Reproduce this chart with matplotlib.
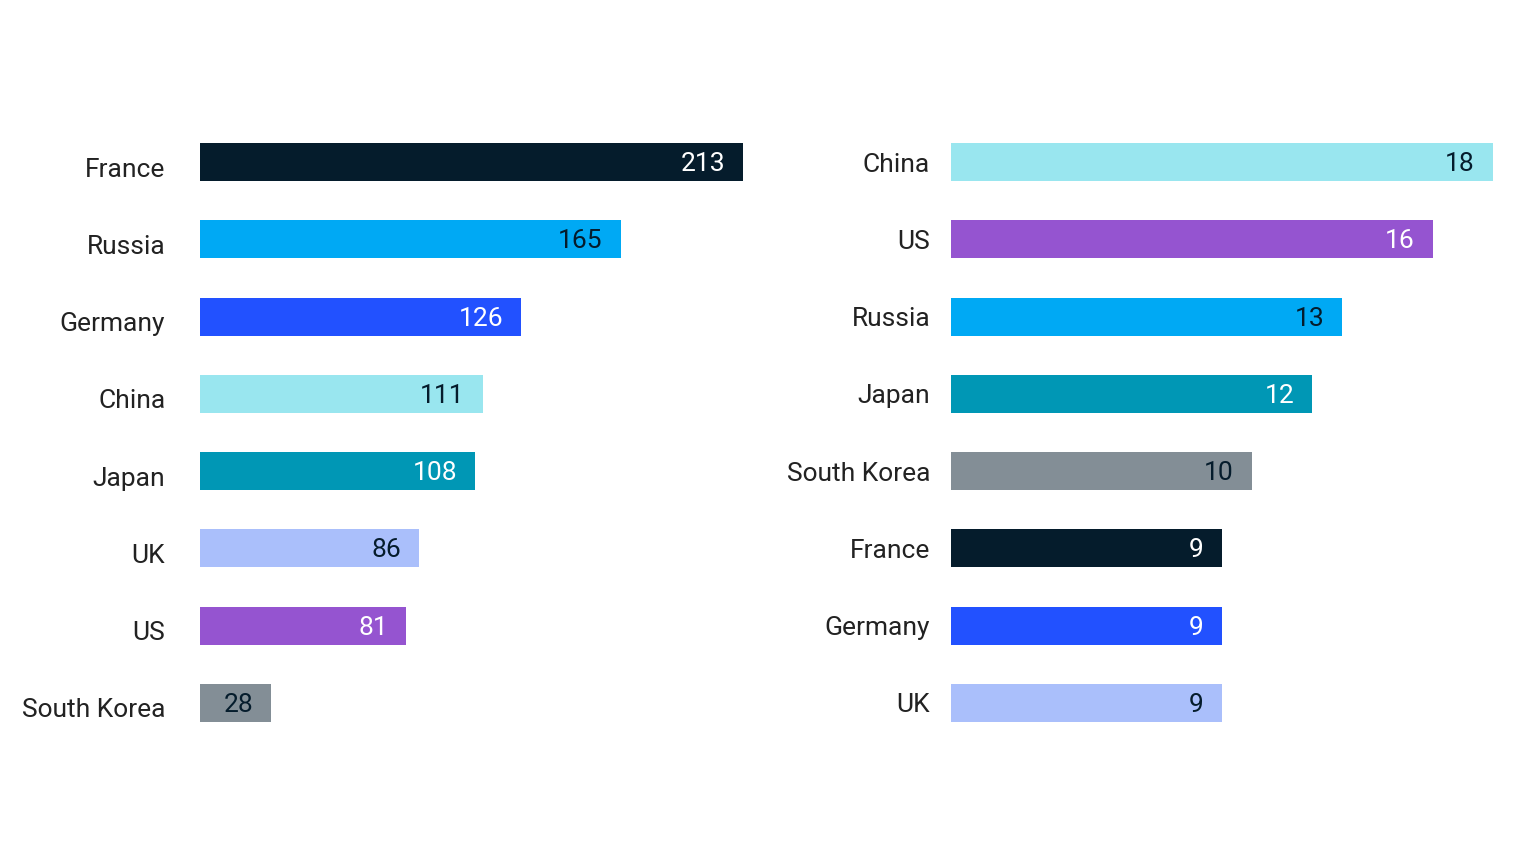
import matplotlib
matplotlib.use("Agg")
import matplotlib.pyplot as plt
import matplotlib.transforms as mtransforms
from matplotlib import font_manager

# ---- data ----
left_countries = ["France", "Russia", "Germany", "China", "Japan", "UK", "US", "South Korea"]
left_values = [213, 165, 126, 111, 108, 86, 81, 28]

right_countries = ["China", "US", "Russia", "Japan", "South Korea", "France", "Germany", "UK"]
right_values = [18, 16, 13, 12, 10, 9, 9, 9]

country_colors = {
    "France": "#051C2C",
    "Russia": "#00A9F4",
    "Germany": "#2251FF",
    "China": "#99E6EF",
    "Japan": "#0097B5",
    "UK": "#AABFFB",
    "US": "#9554D0",
    "South Korea": "#838E96",
}
dark_bars = {"France", "Germany", "Japan", "US"}

# ---- font ----
avail = {f.name for f in font_manager.fontManager.ttflist}
fam = [f for f in ["Liberation Sans Narrow", "Roboto", "DejaVu Sans"] if f in avail]
plt.rcParams["font.family"] = fam

fig = plt.figure(figsize=(15.36, 8.64), dpi=100)
fig.patch.set_facecolor("white")

W, H = 1536, 864
top_px, bot_px = 123.5, 741.5


def panel(left_px, right_px, cats, vals, xmax, pad, yshift):
    ax = fig.add_axes([left_px / W, 1 - bot_px / H, (right_px - left_px) / W, (bot_px - top_px) / H])
    ys = list(range(len(cats)))
    ax.barh(ys, vals, height=0.49, color=[country_colors[c] for c in cats])
    ax.set_xlim(0, xmax)
    ax.set_ylim(len(cats) - 0.5, -0.5)
    ax.set_yticks(ys)
    ax.set_yticklabels(cats, fontsize=19, color="#222222")
    ax.tick_params(axis="y", length=0, pad=pad)
    ax.tick_params(axis="x", bottom=False, labelbottom=False)
    off = mtransforms.ScaledTranslation(0, -yshift / 100, fig.dpi_scale_trans)
    for lab in ax.get_yticklabels():
        lab.set_transform(lab.get_transform() + off)
    for s in ax.spines.values():
        s.set_visible(False)
    for y, v, c in zip(ys, vals, cats):
        tc = "white" if c in dark_bars else "#051C2C"
        ax.annotate(str(v), xy=(v, y), xytext=(-13, -1.5), textcoords="offset points",
                    ha="right", va="center", fontsize=19, color=tc)
    return ax


panel(200, 743, left_countries, left_values, 213, 25, 5)
panel(951, 1493, right_countries, right_values, 18, 15, 0)

fig.savefig("out.png", dpi=100, facecolor="white")
